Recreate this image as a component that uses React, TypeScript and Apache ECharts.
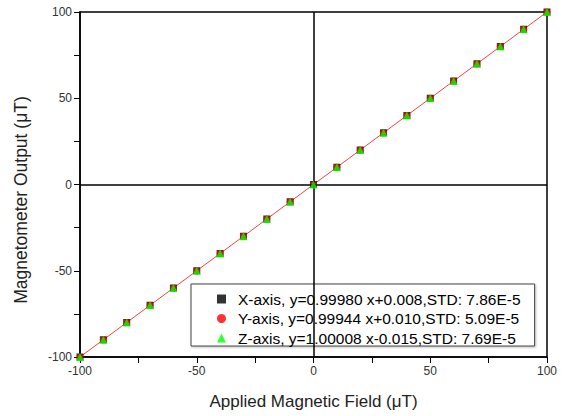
import React, { useEffect, useRef } from "react";
import * as echarts from "echarts";

const appliedField = [-100, -90, -80, -70, -60, -50, -40, -30, -20, -10, 0, 10, 20, 30, 40, 50, 60, 70, 80, 90, 100];
const xAxisOutput = [-100, -90, -80, -70, -60, -50, -40, -30, -20, -10, 0, 10, 20, 30, 40, 50, 60, 70, 80, 90, 100];
const yAxisOutput = [-100, -90, -80, -70, -60, -50, -40, -30, -20, -10, 0, 10, 20, 30, 40, 50, 60, 70, 80, 90, 100];
const zAxisOutput = [-100, -90, -80, -70, -60, -50, -40, -30, -20, -10, 0, 10, 20, 30, 40, 50, 60, 70, 80, 90, 100];
const fitX = [-100, 100];
const fitY = [-100, 100];
const seriesNames = [
  "X-axis, y=0.99980 x+0.008,STD: 7.86E-5",
  "Y-axis, y=0.99944 x+0.010,STD: 5.09E-5",
  "Z-axis, y=1.00008 x-0.015,STD: 7.69E-5",
];
const xTitle = "Applied Magnetic Field (\u03bcT)";
const yTitle = "Magnetometer Output (\u03bcT)";

const FONT = "Liberation Sans, Arial, sans-serif";

export default function App() {
  const ref = useRef<HTMLDivElement>(null);
  useEffect(() => {
    if (!ref.current) return;
    const chart = echarts.init(ref.current, undefined, { renderer: "svg" });
    const pts = (ys: number[]) => appliedField.map((x, i) => [x, ys[i]]);
    chart.setOption({
      animation: false,
      backgroundColor: "#fff",
      grid: {
        left: 80,
        right: 15,
        top: 12,
        bottom: 59,
        show: true,
        borderColor: "#000",
        borderWidth: 1.5,
        backgroundColor: "transparent",
      },
      graphic: [
        {
          type: "text",
          x: 21,
          y: 200,
          rotation: Math.PI / 2,
          style: {
            text: yTitle,
            fontFamily: FONT,
            fontSize: 17.5,
            fill: "#222",
            textAlign: "center",
            textVerticalAlign: "middle",
          },
        },
      ],
      legend: {
        orient: "vertical",
        left: 191,
        top: 284,
        padding: [7, 14, 0, 26],
        itemGap: 3.5,
        itemWidth: 9,
        itemHeight: 9,
        backgroundColor: "#fff",
        borderColor: "#444",
        borderWidth: 1,
        shadowColor: "rgba(0,0,0,0.25)",
        shadowBlur: 2,
        shadowOffsetX: 1,
        shadowOffsetY: 1,
        textStyle: { fontFamily: FONT, fontSize: 15.5, color: "#000", padding: [0, 0, 0, 7] },
        data: [
          { name: seriesNames[0], icon: "rect" },
          { name: seriesNames[1], icon: "circle" },
          { name: seriesNames[2], icon: "triangle" },
        ],
      },
      xAxis: {
        type: "value",
        min: -100,
        max: 100,
        interval: 50,
        name: xTitle,
        nameLocation: "middle",
        nameGap: 36,
        nameTextStyle: { fontFamily: FONT, fontSize: 17, color: "#222" },
        axisLine: { show: true, onZero: false, lineStyle: { color: "#000", width: 1.5 } },
        axisTick: { show: true, inside: false, length: 6, lineStyle: { color: "#000" } },
        minorTick: { show: true, splitNumber: 2, length: 6, lineStyle: { color: "#000" } },
        axisLabel: { fontFamily: FONT, fontSize: 12, color: "#333", margin: 8 },
        splitLine: { show: false },
      },
      yAxis: {
        type: "value",
        min: -100,
        max: 100,
        interval: 50,
        axisLine: { show: true, onZero: false, lineStyle: { color: "#000", width: 1.5 } },
        axisTick: { show: true, inside: false, length: 6, lineStyle: { color: "#000" } },
        minorTick: { show: true, splitNumber: 2, length: 6, lineStyle: { color: "#000" } },
        axisLabel: { fontFamily: FONT, fontSize: 12, color: "#333", margin: 8 },
        splitLine: { show: false },
      },
      series: [
        {
          type: "line",
          name: "fit",
          data: fitX.map((x, i) => [x, fitY[i]]),
          showSymbol: false,
          symbol: "none",
          lineStyle: { color: "#ff4040", width: 1 },
          z: 1,
          silent: true,
          markLine: {
            silent: true,
            symbol: "none",
            label: { show: false },
            lineStyle: { color: "#000", width: 1.5, type: "solid" },
            data: [{ xAxis: 0 }, { yAxis: 0 }],
          },
        },
        {
          type: "scatter",
          name: seriesNames[0],
          data: pts(xAxisOutput),
          symbol: "rect",
          symbolSize: 7,
          itemStyle: { color: "#000" },
          z: 3,
        },
        {
          type: "scatter",
          name: seriesNames[1],
          data: pts(yAxisOutput),
          symbol: "circle",
          symbolSize: 7,
          itemStyle: { color: "#ff0000" },
          z: 4,
        },
        {
          type: "scatter",
          name: seriesNames[2],
          data: pts(zAxisOutput),
          symbol: "triangle",
          symbolSize: 8,
          itemStyle: { color: "#00ff00" },
          z: 5,
        },
      ],
    });
    return () => chart.dispose();
  }, []);
  return <div ref={ref} style={{ width: 562, height: 416, position: "absolute", left: 0, top: 0 }} />;
}
